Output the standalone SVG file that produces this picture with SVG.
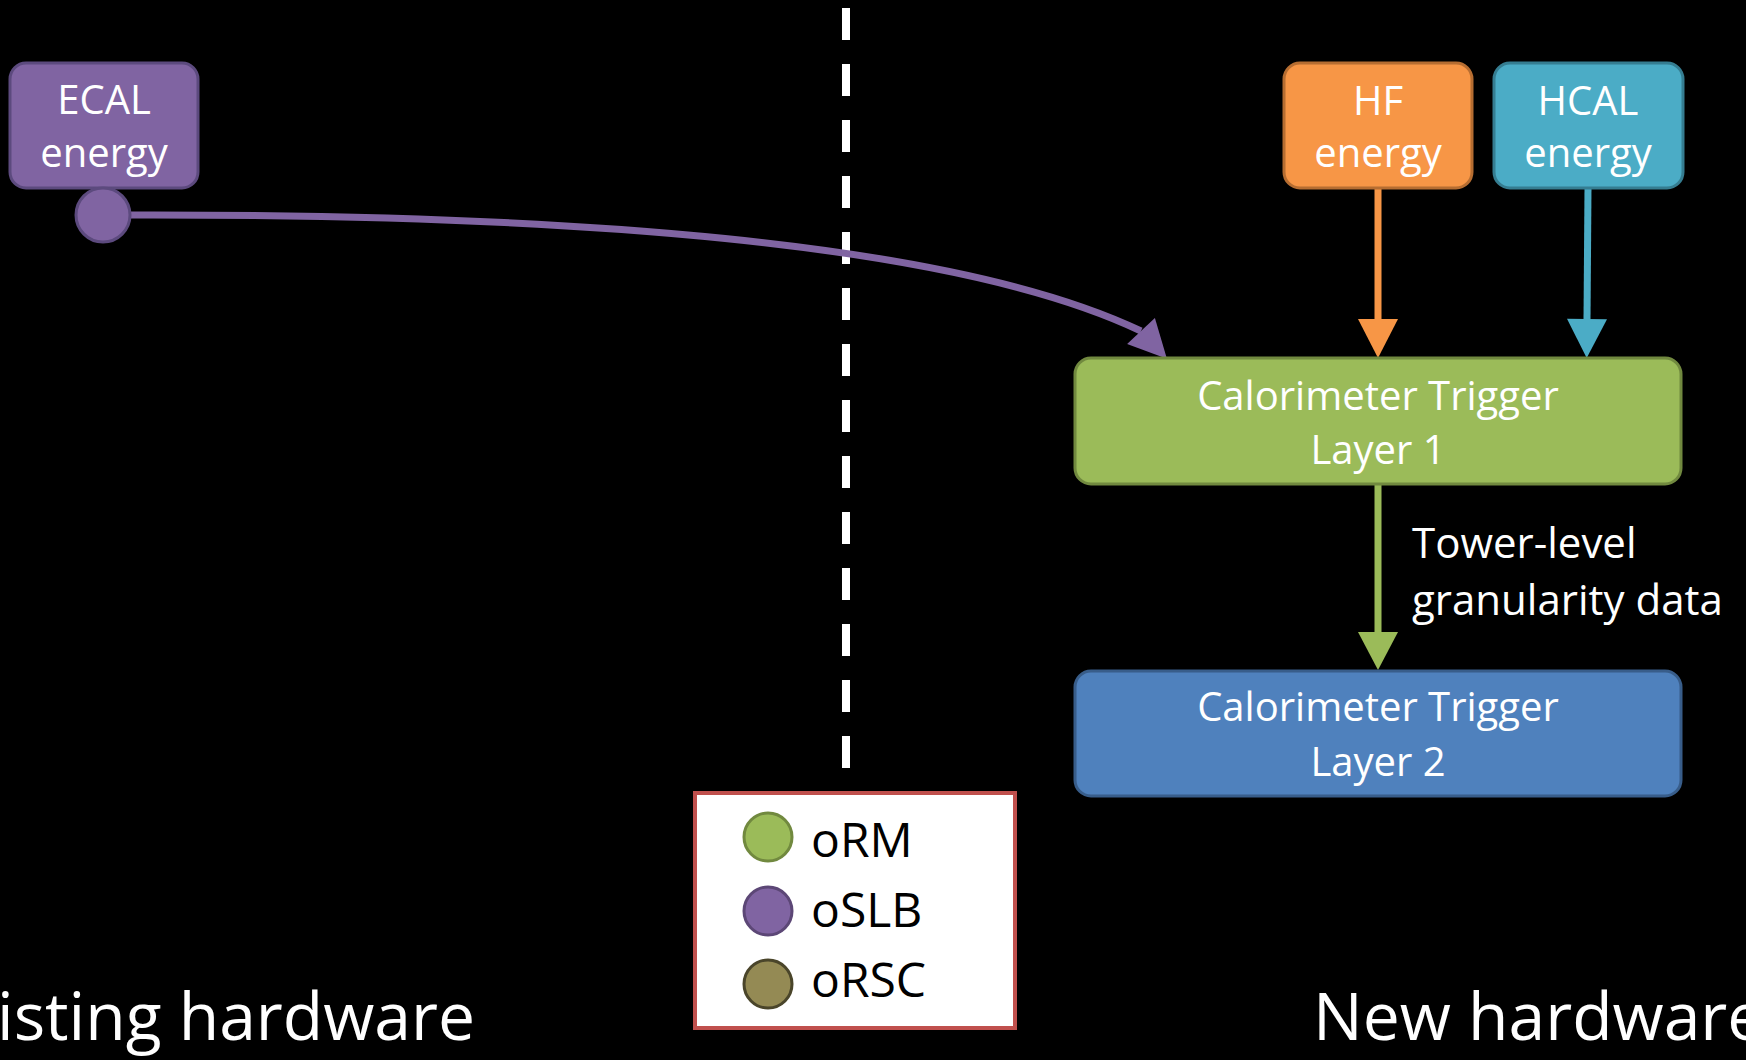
<svg xmlns="http://www.w3.org/2000/svg" width="1746" height="1060" viewBox="0 0 1746 1060">
<style>
text{font-family:"Open Sans","Noto Sans","DejaVu Sans",sans-serif;}
.lbl{fill:#ffffff;font-size:40px;text-anchor:middle;}
.big{fill:#ffffff;font-size:66px;}
.leg{fill:#000000;font-size:48px;}
.box{stroke-width:3;}
</style>
<defs>
<marker id="ahP" markerUnits="userSpaceOnUse" markerWidth="60" markerHeight="60" viewBox="-5 -30 60 60" refX="0" refY="0" orient="47" overflow="visible"><path d="M0,-19 L38,0 L0,19 Z" fill="#8064a2"/></marker>
<marker id="ahO" markerUnits="userSpaceOnUse" markerWidth="60" markerHeight="60" viewBox="-5 -30 60 60" refX="0" refY="0" orient="auto" overflow="visible"><path d="M0,-20 L39,0 L0,20 Z" fill="#f79646"/></marker>
<marker id="ahT" markerUnits="userSpaceOnUse" markerWidth="60" markerHeight="60" viewBox="-5 -30 60 60" refX="0" refY="0" orient="auto" overflow="visible"><path d="M0,-20 L39,0 L0,20 Z" fill="#4bacc6"/></marker>
<marker id="ahG" markerUnits="userSpaceOnUse" markerWidth="60" markerHeight="60" viewBox="-5 -30 60 60" refX="0" refY="0" orient="auto" overflow="visible"><path d="M0,-20 L38,0 L0,20 Z" fill="#9bbb59"/></marker>
</defs>
<rect x="0" y="0" width="1746" height="1060" fill="#000000"/>

<g id="divider">
<path d="M846,8 V768" stroke="#ffffff" stroke-width="8" stroke-dasharray="32 24" fill="none"/>
</g>

<g id="connectors" fill="none">
<path d="M130,215 C560,214 950,240 1141,331" stroke="#8064a2" stroke-width="7" marker-end="url(#ahP)"/>
<path d="M1378,188 V319" stroke="#f79646" stroke-width="7" marker-end="url(#ahO)"/>
<path d="M1588,188 L1587,319" stroke="#4bacc6" stroke-width="7" marker-end="url(#ahT)"/>
<path d="M1378,484 V632" stroke="#9bbb59" stroke-width="7" marker-end="url(#ahG)"/>
</g>

<g id="ecal">
<rect class="box" x="10" y="63" width="188" height="125" rx="16" fill="#8064a2" stroke="#5c4a7e"/>
<text class="lbl" x="104" y="114">ECAL</text>
<text class="lbl" x="104" y="167">energy</text>
<circle class="box" cx="103" cy="215" r="27" fill="#8064a2" stroke="#5c4a7e"/>
</g>

<g id="hf">
<rect class="box" x="1284" y="63" width="188" height="125" rx="16" fill="#f79646" stroke="#b66d31"/>
<text class="lbl" x="1378" y="115">HF</text>
<text class="lbl" x="1378" y="167">energy</text>
</g>

<g id="hcal">
<rect class="box" x="1494" y="63" width="189" height="125" rx="16" fill="#4bacc6" stroke="#357d91"/>
<text class="lbl" x="1588" y="115">HCAL</text>
<text class="lbl" x="1588" y="167">energy</text>
</g>

<g id="layer1">
<rect class="box" x="1075" y="358" width="606" height="126" rx="16" fill="#9bbb59" stroke="#71893f"/>
<text class="lbl" x="1378" y="410">Calorimeter Trigger</text>
<text class="lbl" x="1378" y="464">Layer 1</text>
</g>

<g id="edge-label">
<text x="1412" y="558" fill="#ffffff" font-size="42">Tower-level</text>
<text x="1412" y="615" fill="#ffffff" font-size="42">granularity data</text>
</g>

<g id="layer2">
<rect class="box" x="1075" y="671" width="606" height="125" rx="16" fill="#4f81bd" stroke="#385d8a"/>
<text class="lbl" x="1378" y="721">Calorimeter Trigger</text>
<text class="lbl" x="1378" y="776">Layer 2</text>
</g>

<g id="legend">
<rect x="695" y="793" width="320" height="235" fill="#ffffff" stroke="#c0504d" stroke-width="4"/>
<circle class="box" cx="768" cy="837" r="24" fill="#9bbb59" stroke="#71893f"/>
<text class="leg" x="811" y="857">oRM</text>
<circle class="box" cx="768" cy="911" r="24" fill="#8064a2" stroke="#5c4776"/>
<text class="leg" x="811" y="927">oSLB</text>
<circle class="box" cx="768" cy="984" r="24" fill="#948a54" stroke="#4a452a"/>
<text class="leg" x="811" y="997">oRSC</text>
</g>

<g id="captions">
<text class="big" x="-3" y="1040" textLength="478" lengthAdjust="spacingAndGlyphs">isting hardware</text>
<text class="big" x="1313" y="1040">New hardware</text>
</g>
</svg>
